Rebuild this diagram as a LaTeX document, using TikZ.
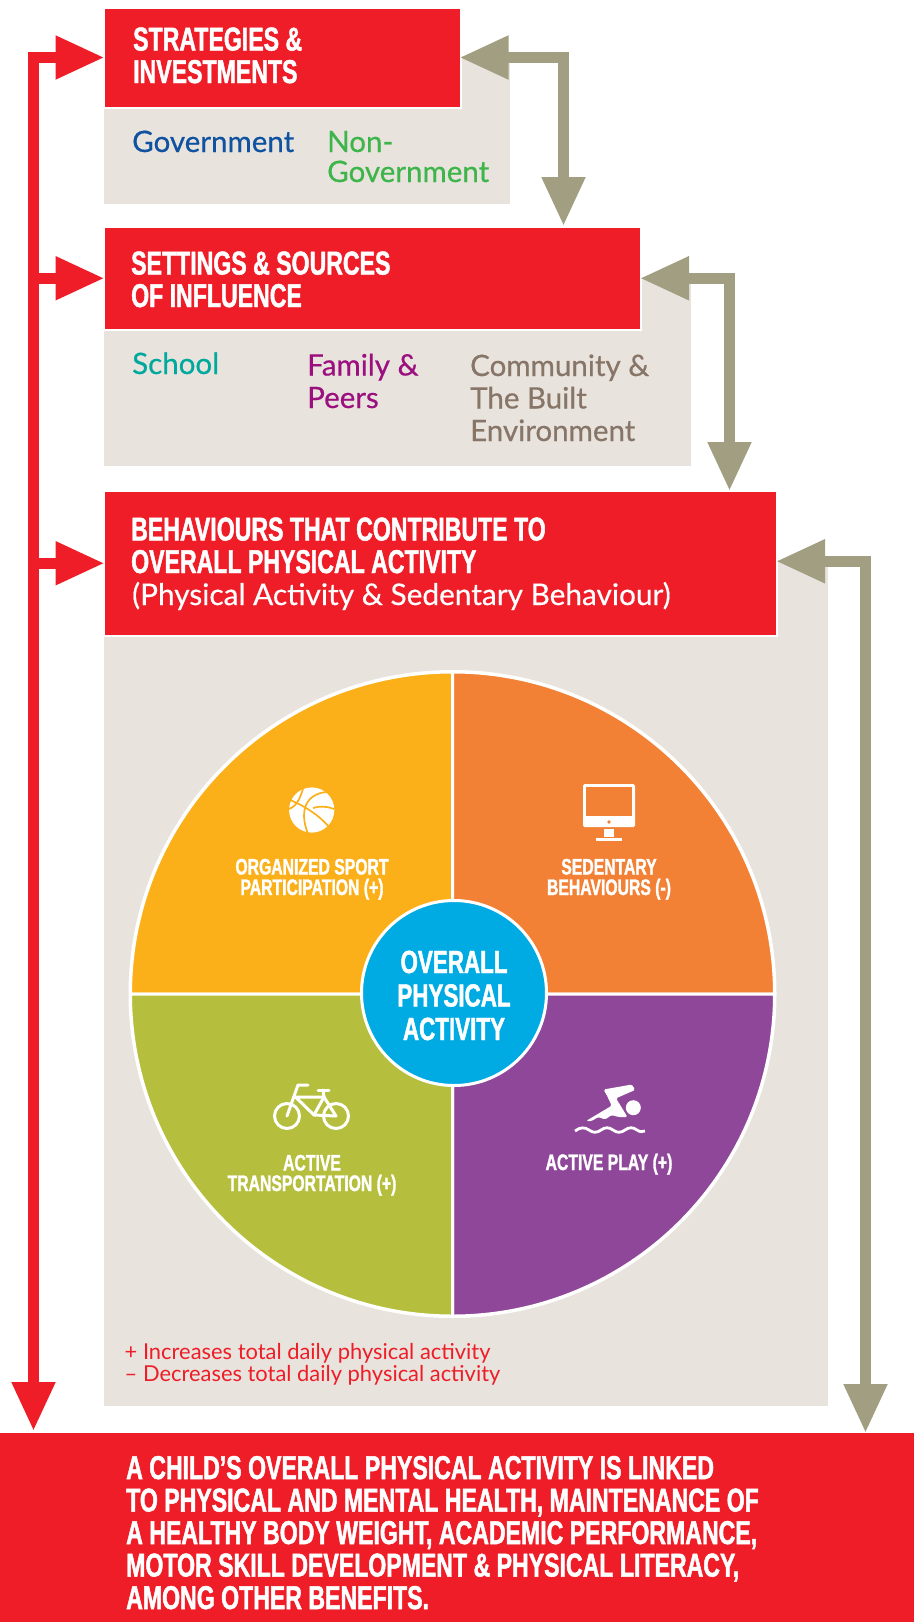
\documentclass[tikz,border=0pt]{standalone}
\usepackage{fontspec}
\usepackage{tikz}
\usetikzlibrary{arrows.meta,positioning}

\setmainfont{Lato}
\newfontfamily\headfont[FakeStretch=0.7,FakeBold=1.4]{Liberation Sans}
\newfontfamily\labelfont[FakeBold=0.5]{Lato}

\definecolor{redmain}{HTML}{EE1D27}
\definecolor{greypanel}{HTML}{E8E3DD}
\definecolor{taupe}{HTML}{A19E82}
\definecolor{yellowsport}{HTML}{FBB01A}
\definecolor{orangesit}{HTML}{F28135}
\definecolor{greenbike}{HTML}{B5BF3D}
\definecolor{purpleplay}{HTML}{8F4899}
\definecolor{bluecore}{HTML}{00ABE3}
\definecolor{govblue}{HTML}{0F52A0}
\definecolor{nongreen}{HTML}{3EB54A}
\definecolor{schoolteal}{HTML}{00A99D}
\definecolor{familypurple}{HTML}{9B0F7F}
\definecolor{communitybrown}{HTML}{877568}

\tikzset{
	redbox/.style={rectangle, fill=redmain, draw=white, line width=2pt, anchor=north west, inner sep=0pt},
	greybox/.style={rectangle, fill=greypanel, anchor=north west, inner sep=0pt},
	headtext/.style={anchor=base west, inner sep=0pt, align=left, text=white, font=\headfont\bfseries\fontsize{33}{32.5}\selectfont},
	labeltext/.style={anchor=base west, inner sep=0pt, align=left, font=\labelfont\fontsize{29.5}{32.5}\selectfont},
	sectortext/.style={anchor=base, inner sep=0pt, align=center, text=white, font=\headfont\bfseries\fontsize{22.5}{20.5}\selectfont},
	redlink/.style={draw=redmain, line width=11pt, {Triangle[length=49pt,width=41pt]}-{Triangle[length=49pt,width=41pt]}, shorten >=-2pt},
	redbranch/.style={draw=redmain, line width=11pt, -{Triangle[length=49pt,width=41pt]}, shorten >=-2pt},
	greylink/.style={draw=taupe, line width=11pt, {Triangle[length=49pt,width=41pt]}-{Triangle[length=49pt,width=41pt]}, shorten <=-2pt},
	sector/.style={draw=white, line width=3pt, line join=round},
	icon/.style={fill=white, draw=none},
	iconline/.style={draw=white, line width=3pt, line cap=round, line join=round}
}

\begin{document}
\begin{tikzpicture}[x=1pt,y=-1pt]
	\useasboundingbox (0,0) rectangle (914,1622);

	% panels
	\node[greybox, minimum width=406, minimum height=148] (strategiesbg) at (104,56) {};
	\node[greybox, minimum width=587, minimum height=189] (settingsbg) at (104,277) {};
	\node[greybox, minimum width=724, minimum height=846] (behavioursbg) at (104,560) {};

	% red boxes
	\node[redbox, minimum width=357, minimum height=100] (strategies) at (102.5,6.5) {};
	\node[redbox, minimum width=537.5, minimum height=103.5] (settings) at (102.5,225.5) {};
	\node[redbox, minimum width=673.5, minimum height=145.5] (behaviours) at (102.5,489.5) {};
	\node[rectangle, fill=redmain, anchor=north west, inner sep=0pt, minimum width=914, minimum height=189] (outcome) at (0,1433) {};

	\coordinate (redfoot) at (33.5,1431);
	\coordinate (greyfoot1) at (563.5,226);
	\coordinate (greyfoot2) at (729.5,491);
	\coordinate (greyfoot3) at (865.5,1433);

	% left feedback line
	\draw[redlink] (redfoot) |- (strategies.west);
	\draw[redbranch] (redfoot |- settings.west) -- (settings.west);
	\draw[redbranch, yshift=2pt] (redfoot |- behaviours.west) -- (behaviours.west);

	% right links
	\draw[greylink] (strategies.east) -| (greyfoot1);
	\draw[greylink] (settings.east) -| (greyfoot2);
	\draw[greylink] ([yshift=2pt]behaviours.east) -| (greyfoot3);

	% headings
	\node[headtext] (strategiestext) at (133,83) {STRATEGIES \&\\INVESTMENTS};
	\node[headtext] (settingstext) at (131,307) {SETTINGS \& SOURCES\\OF INFLUENCE};
	\node[headtext] (behaviourstext) at (131,573) {BEHAVIOURS THAT CONTRIBUTE TO\\OVERALL PHYSICAL ACTIVITY};
	\node[labeltext, text=white, font=\labelfont\fontsize{29.8}{32.5}\selectfont] (behaviourssub) at (132,605) {(Physical Activity \& Sedentary Behaviour)};

	% panel labels
	\node[labeltext, text=govblue] (government) at (132,152) {Government};
	\node[labeltext, text=nongreen] (nongovernment) at (327,182) {Non-\\[-2.5pt]Government};
	\node[labeltext, text=schoolteal] (school) at (132,374) {School};
	\node[labeltext, text=familypurple] (family) at (307,408) {Family \&\\Peers};
	\node[labeltext, text=communitybrown] (community) at (470,441) {Community \&\\The Built\\Environment};

	% wheel
	\fill[white] (452.5,994) circle[radius=324];
	\path[sector, fill=yellowsport] (452.5,994) -- (130.5,994) arc[start angle=180, end angle=270, radius=322] -- cycle;
	\path[sector, fill=orangesit] (452.5,994) -- (452.5,672) arc[start angle=270, end angle=360, radius=322] -- cycle;
	\path[sector, fill=purpleplay] (452.5,994) -- (774.5,994) arc[start angle=0, end angle=90, radius=322] -- cycle;
	\path[sector, fill=greenbike] (452.5,994) -- (452.5,1316) arc[start angle=90, end angle=180, radius=322] -- cycle;
	\node[circle, fill=bluecore, draw=white, line width=3pt, minimum size=185, inner sep=0pt] (overall) at (454,993) {};
	\node[anchor=base, inner sep=0pt, align=center, text=white, font=\headfont\bfseries\fontsize{32}{33.5}\selectfont] (overalltext) at (454,1040) {OVERALL\\PHYSICAL\\ACTIVITY};

	% sector labels
	\node[sectortext] (sporttext) at (312,895) {ORGANIZED SPORT\\PARTICIPATION (+)};
	\node[sectortext] (sedentarytext) at (609,895) {SEDENTARY\\BEHAVIOURS (-)};
	\node[sectortext] (transporttext) at (312,1191) {ACTIVE\\TRANSPORTATION (+)};
	\node[sectortext] (playtext) at (609,1170) {ACTIVE PLAY (+)};

	% ball
	\fill[icon] (311.7,810) circle[radius=22.6];
	\begin{scope}[draw=yellowsport, line width=1.7pt]
		\draw (303,789) .. controls (300,798) and (297,806) .. (289,809);
		\draw (326,792) .. controls (308,794) and (298,808) .. (308,834);
		\draw (288,799) .. controls (305,806) and (320,816) .. (329,827);
		\draw (313,808) .. controls (320,806) and (326,806) .. (334,809);
	\end{scope}

	% screen
	\fill[icon, rounded corners=1.5pt] (583,784) rectangle (635,827);
	\fill[orangesit] (586,787) rectangle (632,816);
	\fill[orangesit] (609,822) circle[radius=1.8];
	\fill[icon] (604,829) rectangle (614,837);
	\fill[icon] (596,838) rectangle (622,841);

	% bike
	\draw[iconline] (287,1116) circle[radius=12.5];
	\draw[iconline] (336,1116) circle[radius=12.5];
	\draw[iconline] (308,1085) -- (298,1085) -- (287,1116);
	\draw[iconline] (295.5,1097) -- (324,1097) -- (336,1116) -- (314,1115) -- cycle;
	\draw[iconline] (314,1115) -- (324,1097);
	\draw[iconline] (318,1090) -- (329,1090);
	\draw[iconline] (323,1090) -- (324,1097);

	% swimmer
	\fill[icon] (633.3,1107.7) circle[radius=7.5];
	\fill[icon, rounded corners=1.5pt] (586,1121) -- (611.7,1105.7) -- (606.7,1095) -- (603.5,1089.5) -- (632,1084.5) -- (635,1090) -- (616,1098.3) -- (627.5,1117) -- (618.3,1117) -- (611.7,1115) -- (605,1119.5) -- (598.3,1117) -- (591.7,1121) -- cycle;
	\draw[draw=white, line width=2.8pt] (575,1131) .. controls (580,1127) and (585,1127) .. (589,1130) .. controls (593,1133) and (597,1133) .. (601,1130) .. controls (605,1127) and (609,1127) .. (613,1130) .. controls (617,1133) and (621,1133) .. (625,1130) .. controls (629,1127) and (633,1127) .. (637,1130) .. controls (640,1132) and (642,1132) .. (645,1131);

	% legend
	\node[anchor=base west, inner sep=0pt, align=left, text=redmain, font=\fontsize{21.9}{22}\selectfont] (legend) at (124.5,1381) {+ Increases total daily physical activity\\– Decreases total daily physical activity};

	% closing statement
	\node[headtext] (outcometext) at (126,1609) {A CHILD’S OVERALL PHYSICAL ACTIVITY IS LINKED\\TO PHYSICAL AND MENTAL HEALTH, MAINTENANCE OF\\A HEALTHY BODY WEIGHT, ACADEMIC PERFORMANCE,\\MOTOR SKILL DEVELOPMENT \& PHYSICAL LITERACY,\\AMONG OTHER BENEFITS.};
\end{tikzpicture}
\end{document}
